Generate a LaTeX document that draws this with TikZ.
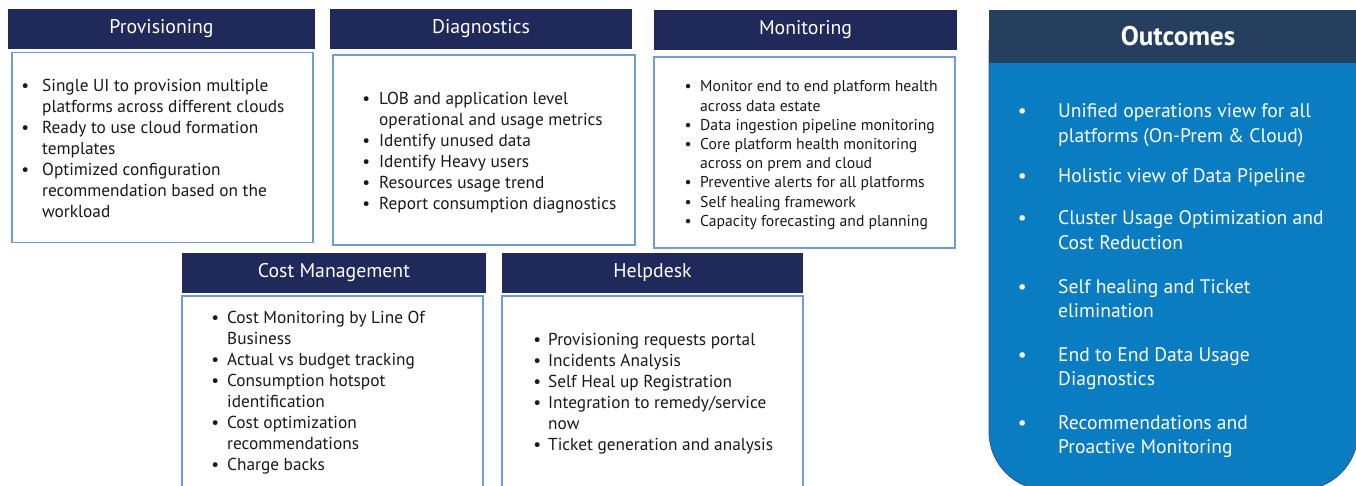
\documentclass[tikz,border=0pt]{standalone}
\usepackage{fontspec}
\usepackage{array}
\setmainfont{PT Sans}
\definecolor{navy}{RGB}{32,42,90}
\definecolor{outhdr}{RGB}{39,63,95}
\definecolor{outblue}{RGB}{10,124,194}
\definecolor{outedge}{RGB}{55,85,140}
\definecolor{boxedge}{RGB}{112,155,211}
\definecolor{txt}{RGB}{25,25,25}
\newcommand{\bodyfont}{\fontsize{17.3}{21}\selectfont}
\newcommand{\smallbodyfont}{\fontsize{15.7}{19.2}\selectfont}
\begin{document}
\begin{tikzpicture}[x=1pt,y=-1pt,
  hdr/.style={fill=navy,draw=none,text=white,font=\fontsize{19.8}{22}\selectfont,inner sep=0},
  bodybox/.style={draw=boxedge,line width=1.3pt,fill=white,inner sep=0},
  list/.style={anchor=base west,inner sep=0,text=txt,align=left},
  outitem/.style={anchor=base west,inner sep=0,text=white,font=\fontsize{19.6}{24.5}\selectfont}]
\useasboundingbox (0,0) rectangle (1356,486);
% Provisioning
\node[hdr,minimum width=307,minimum height=40] (provH) at (161.5,29) {Provisioning};
\node[bodybox,minimum width=301,minimum height=190] (provB) at (162.5,147.5) {};
\node[list,font=\bodyfont] (provT) at (20,92) {\begin{tabular}[t]{@{}wc{10pt}@{\hspace{12pt}}l@{}}
\textbullet & Single UI to provision multiple\\
 & platforms across different clouds\\
\textbullet & Ready to use cloud formation\\
 & templates\\
\textbullet & Optimized configuration\\
 & recommendation based on the\\
 & workload
\end{tabular}};
% Diagnostics
\node[hdr,minimum width=302,minimum height=40] (diagH) at (481,29) {Diagnostics};
\node[bodybox,minimum width=302,minimum height=190] (diagB) at (484,150) {};
\node[list,font=\bodyfont] (diagT) at (361,105) {\begin{tabular}[t]{@{}wc{10pt}@{\hspace{8pt}}l@{}}
\textbullet & LOB and application level\\
 & operational and usage metrics\\
\textbullet & Identify unused data\\
\textbullet & Identify Heavy users\\
\textbullet & Resources usage trend\\
\textbullet & Report consumption diagnostics
\end{tabular}};
% Monitoring
\node[hdr,minimum width=303,minimum height=40] (monH) at (805.5,30) {Monitoring};
\node[bodybox,minimum width=301,minimum height=191] (monB) at (804.5,152.5) {};
\node[list,font=\smallbodyfont] (monT) at (683,92) {\begin{tabular}[t]{@{}wc{10pt}@{\hspace{7pt}}l@{}}
\textbullet & Monitor end to end platform health\\
 & across data estate\\
\textbullet & Data ingestion pipeline monitoring\\
\textbullet & Core platform health monitoring\\
 & across on prem and cloud\\
\textbullet & Preventive alerts for all platforms\\
\textbullet & Self healing framework\\
\textbullet & Capacity forecasting and planning
\end{tabular}};
% Cost Management
\node[hdr,minimum width=304,minimum height=40] (costH) at (334,273) {Cost Management};
\node[bodybox,minimum width=301,minimum height=196] (costB) at (332.5,394) {};
\node[list,font=\bodyfont] (costT) at (210,323) {\begin{tabular}[t]{@{}wc{10pt}@{\hspace{7pt}}l@{}}
\textbullet & Cost Monitoring by Line Of\\
 & Business\\
\textbullet & Actual vs budget tracking\\
\textbullet & Consumption hotspot\\
 & identification\\
\textbullet & Cost optimization\\
 & recommendations\\
\textbullet & Charge backs
\end{tabular}};
% Helpdesk
\node[hdr,minimum width=301,minimum height=40] (helpH) at (652.5,273) {Helpdesk};
\node[bodybox,minimum width=301,minimum height=196] (helpB) at (652.5,394) {};
\node[list,font=\bodyfont] (helpT) at (532,345) {\begin{tabular}[t]{@{}wc{10pt}@{\hspace{6pt}}l@{}}
\textbullet & Provisioning requests portal\\
\textbullet & Incidents Analysis\\
\textbullet & Self Heal up Registration\\
\textbullet & Integration to remedy/service\\
 & now\\
\textbullet & Ticket generation and analysis
\end{tabular}};
% Outcomes
\path[fill=outblue,draw=outedge,line width=0.8pt] (989,40) -- (989,432) arc[start angle=180,end angle=270,radius=58pt] -- (1300,490) arc[start angle=270,end angle=360,radius=58pt] -- (1358,40) -- cycle;
\node[fill=outhdr,text=white,inner sep=0,minimum width=378,minimum height=53,font=\bfseries\fontsize{27}{29}\selectfont] (outH) at (1178,36.5) {Outcomes};
\newcommand{\ob}[1]{\makebox[10pt][c]{\textbullet}\hspace{31pt}\begin{tabular}[t]{@{}l@{}}#1\end{tabular}}
\node[outitem] (o1) at (1017,118) {\ob{Unified operations view for all\\platforms (On-Prem \& Cloud)}};
\node[outitem] (o2) at (1017,183) {\ob{Holistic view of Data Pipeline}};
\node[outitem] (o3) at (1017,225) {\ob{Cluster Usage Optimization and\\Cost Reduction}};
\node[outitem] (o4) at (1017,293) {\ob{Self healing and Ticket\\elimination}};
\node[outitem] (o5) at (1017,361) {\ob{End to End Data Usage\\Diagnostics}};
\node[outitem] (o6) at (1017,429) {\ob{Recommendations and\\Proactive Monitoring}};
\end{tikzpicture}
\end{document}
